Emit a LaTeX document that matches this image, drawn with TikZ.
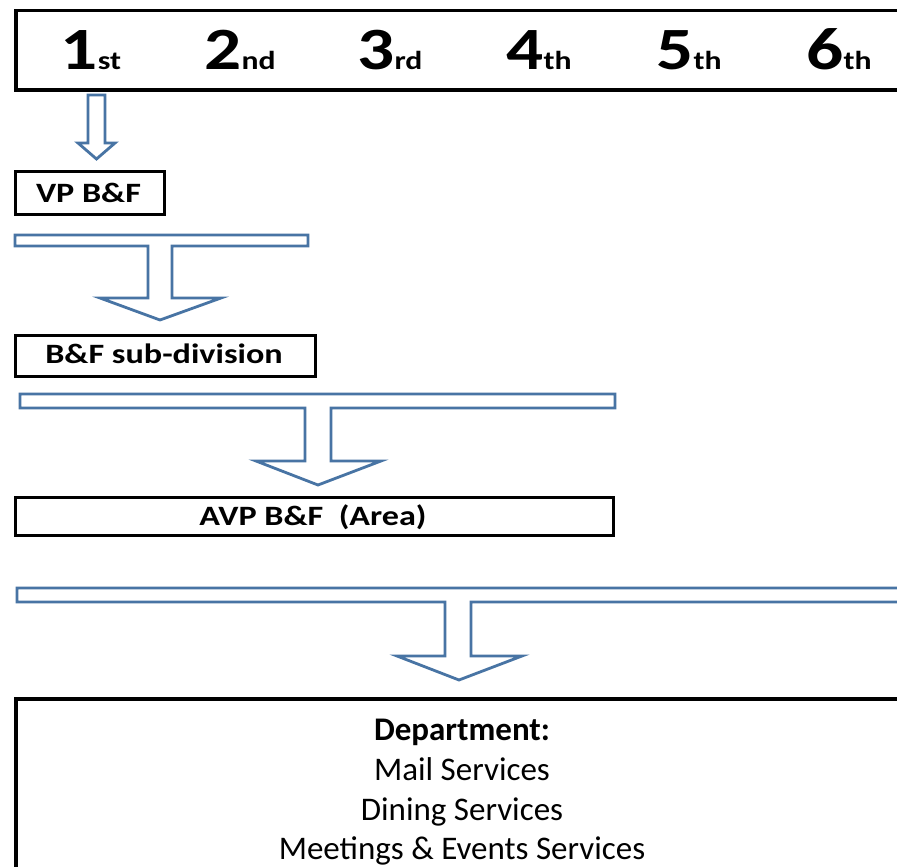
\documentclass[tikz,border=0pt]{standalone}
\usepackage{fontspec}
\setmainfont{Carlito}
\newfontfamily\widefont[FakeStretch=1.22]{Carlito}
\definecolor{arrowblue}{RGB}{72,116,164}
\tikzset{
  box/.style={draw=black, line width=3pt, inner sep=0pt, anchor=north west},
  blockarrow/.style={draw=arrowblue, line width=2.8pt, fill=white, line join=miter},
  rank/.style={anchor=base, inner sep=0pt, font=\widefont\bfseries},
  boxlabel/.style={anchor=base, inner sep=0pt, font=\widefont\bfseries\fontsize{28}{30}\selectfont},
  deptline/.style={anchor=base, inner sep=0pt, font=\fontsize{33}{40}\selectfont},
}
\newcommand\ordinal[2]{{\fontsize{60}{62}\selectfont #1}{\fontsize{26}{28}\selectfont #2}}

\begin{document}
\begin{tikzpicture}[x=1pt,y=-1pt]
\useasboundingbox[fill=white] (0,0) rectangle (897,867);
\clip (0,0) rectangle (897,867);

% level header
\node[box, line width=3.5pt, minimum width=920pt, minimum height=79pt] (header) at (14,9) {};
\node[rank] (r1) at (91,70)  {\ordinal{1}{st}};
\node[rank] (r2) at (240,70) {\ordinal{2}{nd}};
\node[rank] (r3) at (390,70) {\ordinal{3}{rd}};
\node[rank] (r4) at (539,70) {\ordinal{4}{th}};
\node[rank] (r5) at (689,70) {\ordinal{5}{th}};
\node[rank] (r6) at (839,70) {\ordinal{6}{th}};

% first level
\draw[blockarrow] (88,95) -- (105,95) -- (105,143) -- (115,143) -- (96.5,159)
  -- (78,143) -- (88,143) -- cycle;
\node[box, minimum width=149pt, minimum height=43pt] (vp) at (14,170) {};
\node[boxlabel] (vplabel) at (88.5,202) {VP B\&F};

% second level
\draw[blockarrow] (15,235) -- (308,235) -- (308,246) -- (172,246) -- (172,298)
  -- (221,298) -- (160,320) -- (100,298) -- (148,298) -- (148,246) -- (15,246) -- cycle;
\node[box, minimum width=300pt, minimum height=41pt] (sub) at (14,334) {};
\node[boxlabel] (sublabel) at (164,363) {B\&F sub-division};

% third level
\draw[blockarrow] (20,394) -- (615,394) -- (615,408) -- (331,408) -- (331,461)
  -- (381,461) -- (318,485) -- (256,461) -- (305,461) -- (305,408) -- (20,408) -- cycle;
\node[box, minimum width=598pt, minimum height=38pt] (avp) at (14,496) {};
\node[boxlabel] (avplabel) at (313,525) {AVP B\&F\ \ (Area)};

% department level
\draw[blockarrow] (17,588) -- (930,588) -- (930,602) -- (471,602) -- (471,656)
  -- (522,656) -- (459,680) -- (397,656) -- (445,656) -- (445,602) -- (17,602) -- cycle;
\node[box, line width=3.5pt, minimum width=920pt, minimum height=200pt] (dept) at (14,697) {};
\node[deptline, font=\bfseries\fontsize{33}{40}\selectfont] (depttitle) at (462,740) {Department:};
\node[deptline] (mail) at (462,780) {Mail Services};
\node[deptline] (dining) at (462,820) {Dining Services};
\node[deptline] (meetings) at (462,859) {Meetings \& Events Services};
\end{tikzpicture}
\end{document}
